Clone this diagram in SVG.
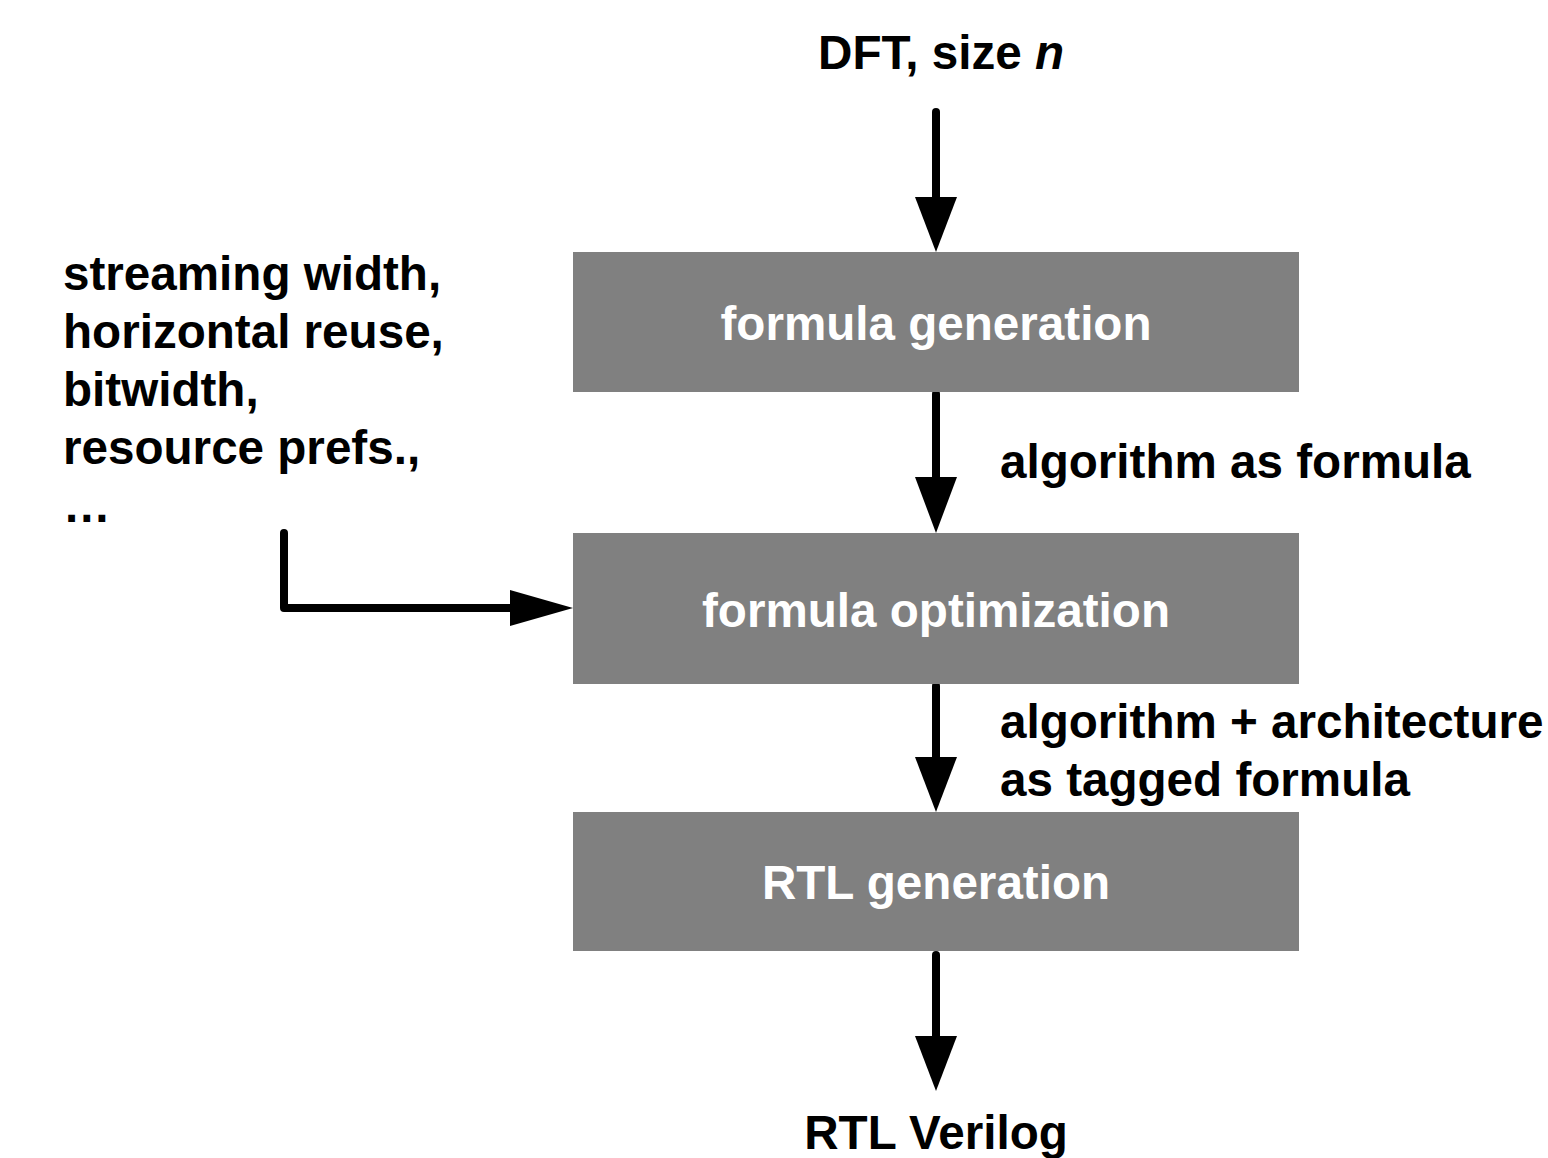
<svg xmlns="http://www.w3.org/2000/svg" width="1548" height="1158" viewBox="0 0 1548 1158">
<style>
.t{font-family:"Liberation Sans",Arial,sans-serif;font-weight:bold;font-size:47.6px;fill:#000}
.w{fill:#fff}
.box{fill:#808080}
.ln{stroke:#000;stroke-width:8;fill:none;stroke-linecap:round;stroke-linejoin:round}
.ah{fill:#000}
</style>
<rect width="1548" height="1158" fill="#fff"/>
<g id="connectors">
<path class="ln" d="M936 112 V200"/>
<polygon class="ah" points="915,197 957,197 936,252"/>
<path class="ln" d="M936 394 V480"/>
<polygon class="ah" points="915,477 957,477 936,533"/>
<path class="ln" d="M936 686 V760"/>
<polygon class="ah" points="915,757 957,757 936,812"/>
<path class="ln" d="M936 955 V1040"/>
<polygon class="ah" points="915,1036 957,1036 936,1091"/>
<path class="ln" d="M284 533 V608 H514"/>
<polygon class="ah" points="510,590 510,626 573,608"/>
</g>
<g id="input"><text class="t" x="941" y="69" text-anchor="middle">DFT, size <tspan font-style="italic">n</tspan></text></g>
<g id="params">
<text class="t" x="63" y="290">streaming width,</text>
<text class="t" x="63" y="348">horizontal reuse,</text>
<text class="t" x="63" y="406">bitwidth,</text>
<text class="t" x="63" y="464">resource prefs.,</text>
<text class="t" x="63" y="522">…</text>
</g>
<g id="formula-generation">
<rect class="box" x="573" y="252" width="726" height="140"/>
<text class="t w" x="936" y="340" text-anchor="middle">formula generation</text>
</g>
<g id="label1"><text class="t" x="1000" y="478">algorithm as formula</text></g>
<g id="formula-optimization">
<rect class="box" x="573" y="533" width="726" height="151"/>
<text class="t w" x="936" y="627" text-anchor="middle">formula optimization</text>
</g>
<g id="label2">
<text class="t" x="1000" y="738">algorithm + architecture</text>
<text class="t" x="1000" y="796">as tagged formula</text>
</g>
<g id="rtl-generation">
<rect class="box" x="573" y="812" width="726" height="139"/>
<text class="t w" x="936" y="899" text-anchor="middle">RTL generation</text>
</g>
<g id="output"><text class="t" x="936" y="1149" text-anchor="middle">RTL Verilog</text></g>
</svg>
